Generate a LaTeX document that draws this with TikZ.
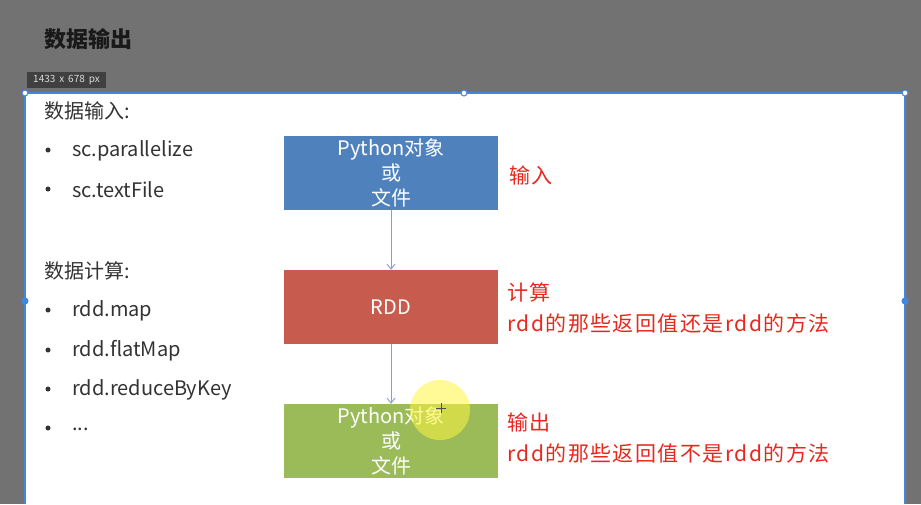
\documentclass[tikz,border=0pt]{standalone}
\usepackage{fontspec}
\setmainfont{Noto Sans CJK SC}
\newfontfamily\redfont{Noto Sans CJK SC}[LetterSpace=7]
\usetikzlibrary{arrows.meta}
\definecolor{bgGray}{HTML}{727272}
\definecolor{selBlue}{HTML}{3F87DF}
\definecolor{inBlue}{HTML}{4F81BD}
\definecolor{rddRed}{HTML}{C65B4E}
\definecolor{outGreen}{HTML}{9BBB59}
\definecolor{arrowBlue}{HTML}{7FA1D4}
\definecolor{noteRed}{HTML}{E8281E}
\definecolor{bodyText}{HTML}{333333}
\tikzset{
  flowbox/.style={minimum width=214pt, minimum height=74pt, inner sep=0pt,
    text=white, align=center, font=\fontsize{20}{25}\selectfont},
  flowarrow/.style={draw=arrowBlue, line width=0.9pt, -{Straight Barb[length=5pt,width=8pt]}},
  note/.style={anchor=west, text=noteRed, inner sep=0pt, align=left,
    font=\redfont\fontsize{21}{31}\selectfont},
  listtext/.style={anchor=west, text=bodyText, inner sep=0pt, font=\fontsize{20}{22}\selectfont},
  bulletdot/.style={circle, fill=bodyText, inner sep=0pt, minimum size=5pt},
  handle/.style={circle, draw=selBlue, fill=white, line width=1pt, inner sep=0pt, minimum size=6pt}
}
\begin{document}
\begin{tikzpicture}[x=1pt,y=-1pt]
  % canvas
  \fill[bgGray] (0,0) rectangle (921,504);
  \useasboundingbox (0,0) rectangle (921,504);
  % title
  \node[anchor=west, inner sep=0pt, text=black!90, font=\bfseries\fontsize{22}{26}\selectfont] (title) at (44,39) {数据输出};
  % size tag
  \fill[black!75] (27,72) rectangle (106,88);
  \node[inner sep=0pt, text=white!85!black, font=\fontsize{10}{11}\selectfont] (sizetag) at (66.5,80) {1433\, x\, 678\, px};
  % white slide with selection frame
  \fill[white] (25,93) rectangle (905,504);
  \draw[selBlue, line width=1.6pt] (25,504) -- (25,93) -- (905,93) -- (905,504);
  \node[handle] (h1) at (25,93) {};
  \node[handle] (h2) at (464,93) {};
  \node[handle] (h3) at (905,93) {};
  \node[handle, fill=selBlue] (h4) at (25,301) {};
  \node[handle, fill=selBlue] (h5) at (905,301) {};

  % left column
  \node[listtext] (inhead) at (44,111) {数据输入:};
  \node[bulletdot] (b1) at (48,150) {};
  \node[listtext] (l1) at (72,151) {sc.parallelize};
  \node[bulletdot] (b2) at (48,189) {};
  \node[listtext] (l2) at (72,190) {sc.textFile};
  \node[listtext] (calchead) at (44,271) {数据计算:};
  \node[bulletdot] (b3) at (48,310) {};
  \node[listtext] (l3) at (72,311) {rdd.map};
  \node[bulletdot] (b4) at (48,350) {};
  \node[listtext] (l4) at (72,351) {rdd.flatMap};
  \node[bulletdot] (b5) at (48,389) {};
  \node[listtext] (l5) at (72,390) {rdd.reduceByKey};
  \node[bulletdot] (b6) at (48,428) {};
  \node[listtext] (l6) at (72,429) {...};

  % flow boxes
  \node[flowbox, fill=inBlue] (src) at (391,173) {Python对象\\或\\文件};
  \node[flowbox, fill=rddRed] (rdd) at (391,307) {RDD};
  \node[flowbox, fill=outGreen] (dst) at (391,441) {Python对象\\或\\文件};
  \draw[flowarrow] (src.south) -- (rdd.north);
  \draw[flowarrow] (rdd.south) -- (dst.north);

  % notes
  \node[note] (n1) at (509,175) {输入};
  \node[note] (n2) at (507,308) {计算\\rdd的那些返回值还是rdd的方法};
  \node[note] (n3) at (507,438) {输出\\rdd的那些返回值不是rdd的方法};

  % pointer highlight
  \fill[yellow!75!white, opacity=0.55] (440,410) circle (30pt);
  \draw[black!70, line width=0.8pt] (436,408) -- (446,408) (441,403) -- (441,413);
\end{tikzpicture}
\end{document}
